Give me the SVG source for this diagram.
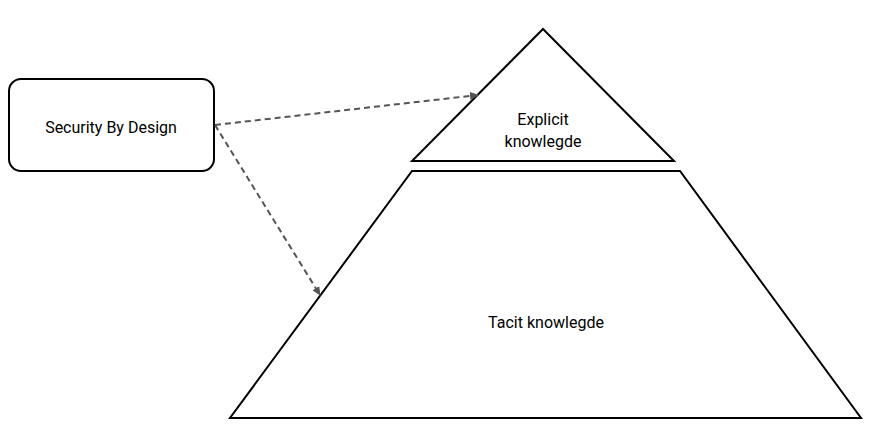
<svg xmlns="http://www.w3.org/2000/svg" width="881" height="427" viewBox="0 0 881 427">
<style>
.s{fill:#fff;stroke:#000;stroke-width:2}
.t{font-family:Roboto,"Liberation Sans",sans-serif;font-size:16px;fill:#000;text-anchor:middle}
.c{stroke:#555;stroke-width:2;stroke-dasharray:6,4;fill:none}
</style>
<defs><marker id="a" markerWidth="10" markerHeight="10" refX="8" refY="5" orient="auto" markerUnits="userSpaceOnUse"><path d="M0,1 L9,5 L0,9 Z" fill="#555"/></marker></defs>
<rect width="881" height="427" fill="#fff"/>
<g id="sbd"><rect class="s" x="9" y="79" width="205" height="92" rx="12"/><text class="t" x="111" y="133">Security By Design</text></g>
<g id="explicit"><polygon class="s" points="543,29 674,161 412,161"/><text class="t" x="543" y="125">Explicit</text><text class="t" x="543" y="147">knowlegde</text></g>
<g id="tacit"><polygon class="s" points="412,171 680,171 861,418 230,418"/><text class="t" x="546" y="328">Tacit knowlegde</text></g>
<g id="connectors"><path class="c" d="M215,125 L478,95" marker-end="url(#a)"/><path class="c" d="M215,125 L320,295" marker-end="url(#a)"/></g>
</svg>
